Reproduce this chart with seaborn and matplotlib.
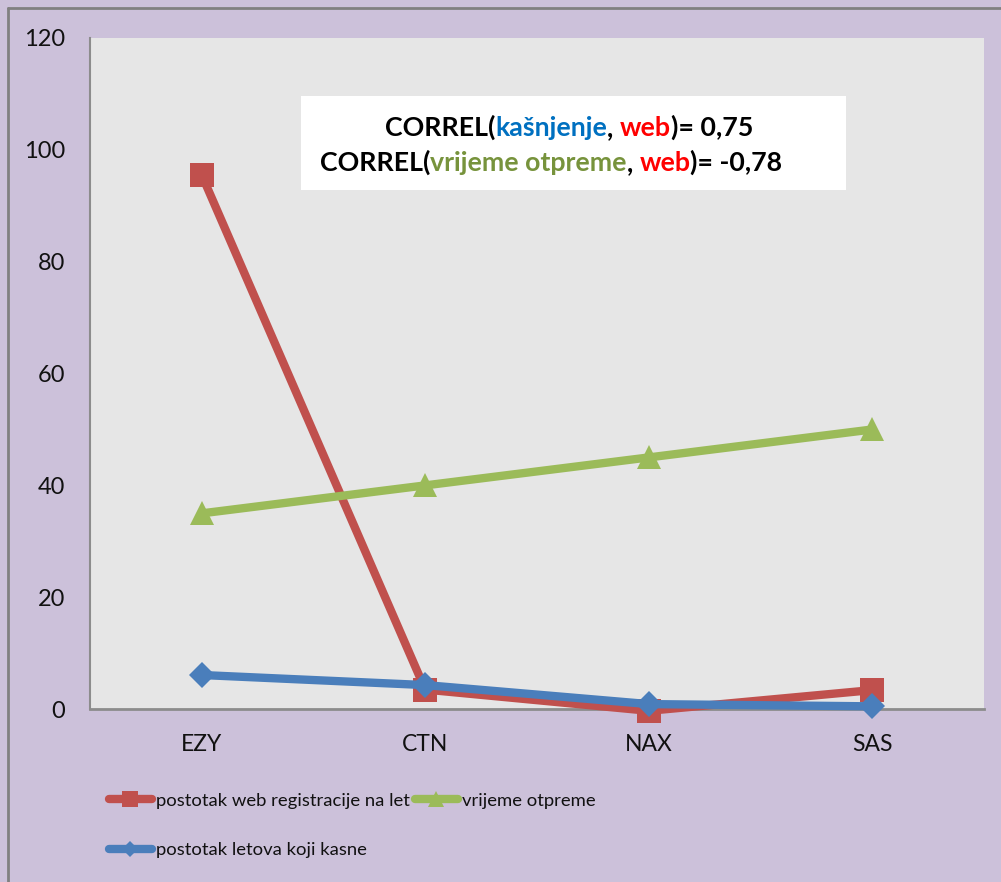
import matplotlib
matplotlib.use("Agg")
import matplotlib.pyplot as plt
import seaborn as sns
import pandas as pd
from matplotlib.lines import Line2D
from matplotlib.patches import Rectangle

# data
airlines = ["EZY", "CTN", "NAX", "SAS"]
web_checkin = [95.5, 3.5, -0.3, 3.4]       # postotak web registracije na let
dispatch_time = [35, 40, 45, 50]           # vrijeme otpreme
delayed = [6.1, 4.3, 0.9, 0.5]             # postotak letova koji kasne
y_ticks = [0, 20, 40, 60, 80, 100, 120]

RED = "#C0504D"
GREEN = "#9BBB59"
BLUE = "#4A7EBB"

sns.set_style("white")
plt.rcParams["font.family"] = ["Lato", "DejaVu Sans"]

fig = plt.figure(figsize=(10.01, 8.82), dpi=100, facecolor="#CCC1DA")
ax = fig.add_axes([0.0899, 0.196, 0.8931, 0.761])
ax.set_facecolor("#E6E6E6")

series = [
    ("postotak web registracije na let", web_checkin, RED, "s", 17),
    ("vrijeme otpreme", dispatch_time, GREEN, "^", 17),
    ("postotak letova koji kasne", delayed, BLUE, "D", 13),
]
for name, vals, col, mk, ms in series:
    df = pd.DataFrame({"airline": airlines, "value": vals})
    sns.lineplot(data=df, x="airline", y="value", color=col, lw=6, marker=mk,
                 markersize=ms, markeredgewidth=0, ax=ax, sort=False, clip_on=False)

ax.set_xlim(-0.5, 3.5)
ax.set_ylim(0, 120)
ax.set_yticks(y_ticks)
ax.set_xlabel("")
ax.set_ylabel("")
ax.tick_params(axis="y", length=0, pad=18, labelsize=17, labelcolor="#111111")
ax.tick_params(axis="x", length=0, pad=18, labelsize=16.5, labelcolor="#111111")
for side in ["top", "right"]:
    ax.spines[side].set_visible(False)
ax.spines["left"].set_color("#8C8C8C")
ax.spines["left"].set_linewidth(1.5)
ax.spines["bottom"].set_color("#8C8C8C")
ax.spines["bottom"].set_linewidth(2)
ax.spines["bottom"].set_zorder(1)

# outer border of the chart area
fig.add_artist(Line2D([0.008, 1.0], [0.991, 0.991], color="#808080", lw=2, transform=fig.transFigure))
fig.add_artist(Line2D([0.008, 0.008], [0.0, 0.991], color="#808080", lw=2, transform=fig.transFigure))

# white text box with coloured formula
ax.add_patch(Rectangle((0.236, 0.773), 0.610, 0.141, transform=ax.transAxes,
                       facecolor="white", edgecolor="none", zorder=5))


def colored_line(x, y, pieces):
    prev = None
    for txt, col in pieces:
        if prev is None:
            prev = ax.text(x, y, txt, color=col, transform=ax.transAxes, fontsize=19.3,
                           fontweight="bold", ha="left", va="center", zorder=6)
        else:
            prev = ax.annotate(txt, xy=(1, 0), xycoords=prev, color=col, fontsize=19.3,
                               fontweight="bold", ha="left", va="bottom", zorder=6)


colored_line(0.330, 0.867, [("CORREL(", "black"), ("kašnjenje", "#0070C0"), (", ", "black"),
                            ("web", "#FF0000"), (")= 0,75", "black")])
colored_line(0.257, 0.815, [("CORREL(", "black"), ("vrijeme otpreme", "#77933C"), (", ", "black"),
                            ("web", "#FF0000"), (")= -0,78", "black")])

# legend
handles = [
    Line2D([], [], color=RED, lw=6, marker="s", markersize=11, markeredgewidth=0, solid_capstyle="round"),
    Line2D([], [], color=BLUE, lw=6, marker="D", markersize=8, markeredgewidth=0, solid_capstyle="round"),
    Line2D([], [], color=GREEN, lw=6, marker="^", markersize=11, markeredgewidth=0, solid_capstyle="round"),
]
labels = [series[0][0], series[2][0], series[1][0]]
fig.legend(handles, labels, ncol=2, loc="upper left", bbox_to_anchor=(0.109, 0.101),
           frameon=False, fontsize=13.3, handlelength=2.3, handletextpad=0.22,
           columnspacing=0.3, labelspacing=1.8, borderaxespad=0, borderpad=0,
           labelcolor="#111111")

fig.savefig("out.png", dpi=100, facecolor=fig.get_facecolor())
